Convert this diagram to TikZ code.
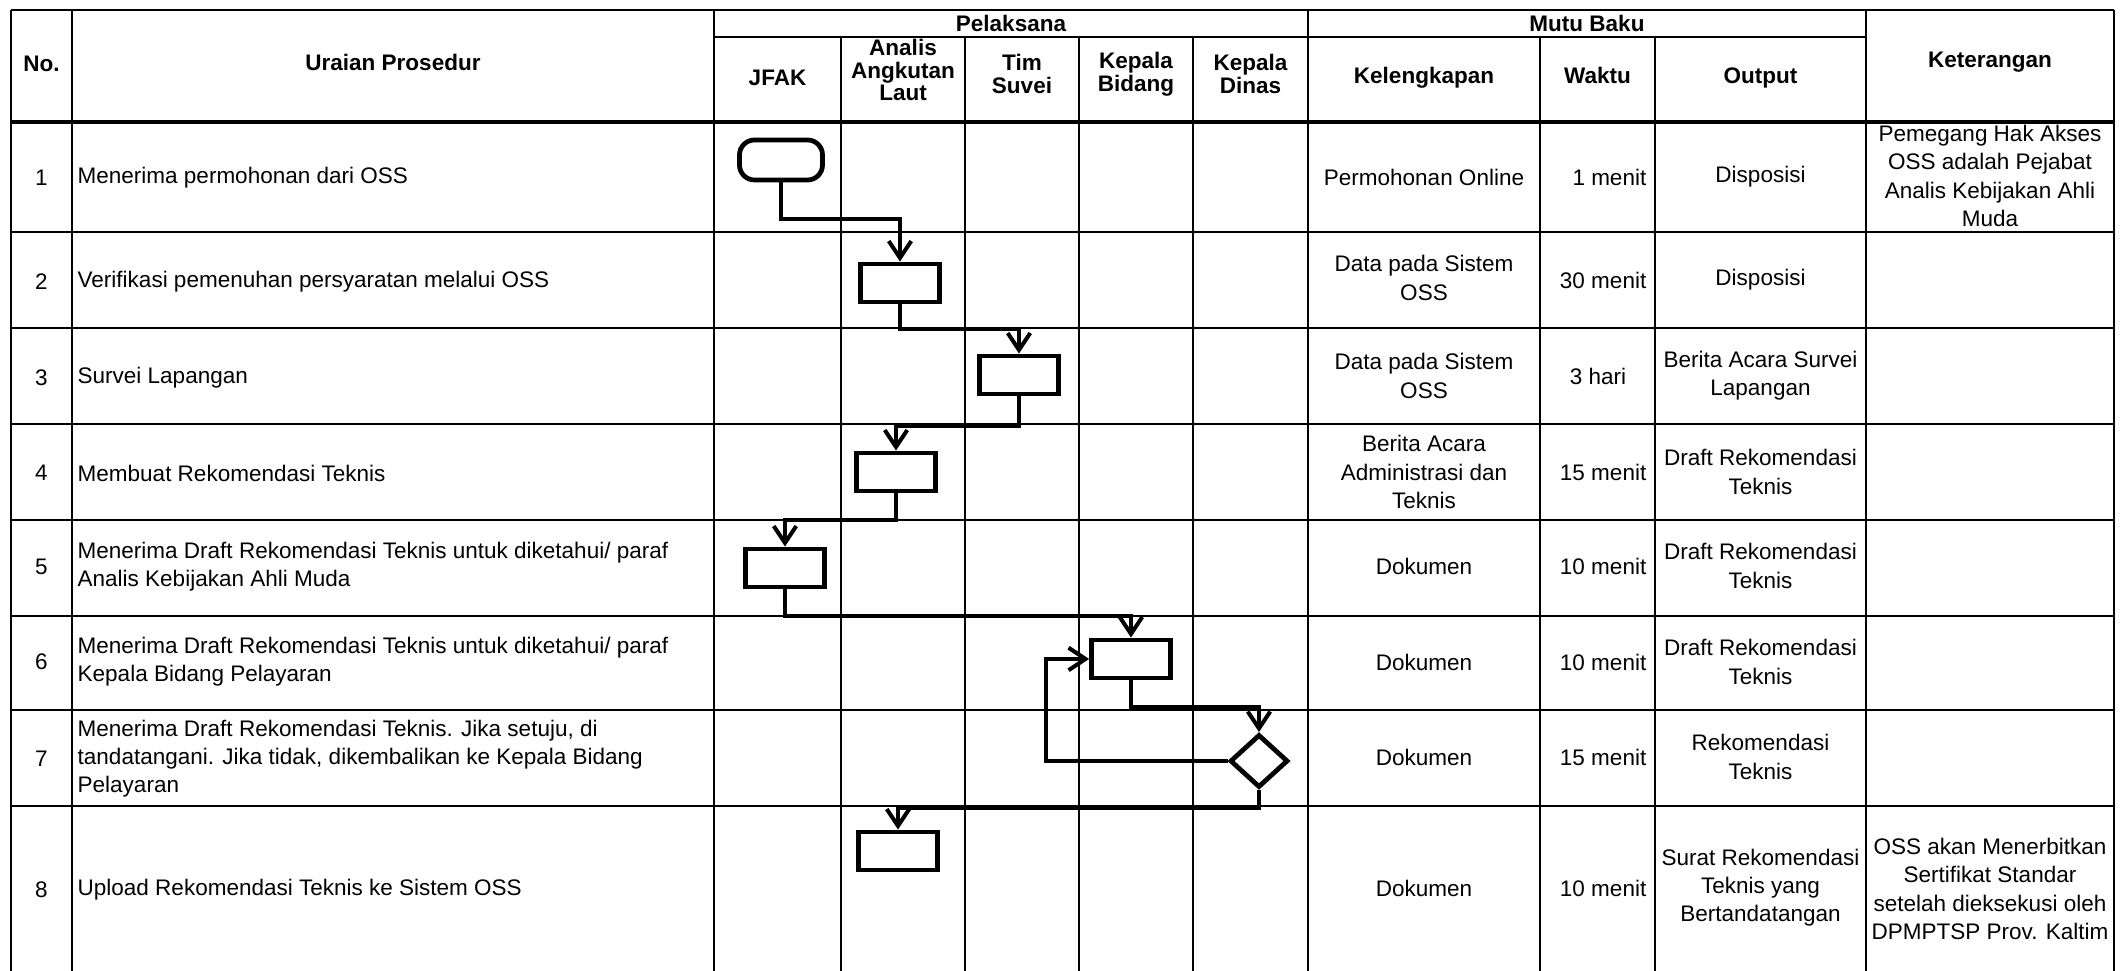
\documentclass[tikz,border=0pt]{standalone}
\usepackage{fontspec}
\setmainfont{Liberation Sans}
\usetikzlibrary{shapes.geometric,arrows.meta}

\begin{document}
\begin{tikzpicture} [x=0.01cm,y=-0.01cm,>={Straight Barb[length=4.8pt,width=6.4pt]},
			every node/.style={inner sep=0pt,align=center,font=\fontsize{6.4}{8.0}\selectfont},
			head/.style={font=\fontsize{6.4}{6.5}\selectfont\bfseries},
			uraian/.style={anchor=west,align=left},
			waktu cell/.style={anchor=east},
			grid line/.style={line width=0.6pt},
			head line/.style={line width=1.2pt},
			process/.style={draw,line width=1.35pt,minimum width=0.79cm,minimum height=0.38cm},
			terminal/.style={process,rounded corners=0.15cm,minimum width=0.83cm,minimum height=0.40cm},
			decision/.style={draw,diamond,line width=1.35pt,minimum width=0.58cm,minimum height=0.53cm},
			flow/.style={->,line width=1.15pt}
			]
		\useasboundingbox (0,0) rectangle (2123,971);

		% table frame
		\draw [grid line] (11,10) -- (11,971) (72,10) -- (72,971) (714,10) -- (714,971)
			(1308,10) -- (1308,971) (1866,10) -- (1866,971) (2114,10) -- (2114,971);
		\draw [grid line] (841,37) -- (841,971) (965,37) -- (965,971) (1079,37) -- (1079,971)
			(1193,37) -- (1193,971) (1540,37) -- (1540,971) (1655,37) -- (1655,971);
		\draw [grid line] (11,10) -- (2114,10) (714,37) -- (1866,37);
		\draw [head line] (11,122) -- (2114,122);
		\draw [grid line] (11,232) -- (2114,232) (11,328) -- (2114,328) (11,424) -- (2114,424)
			(11,520) -- (2114,520) (11,616) -- (2114,616) (11,710) -- (2114,710) (11,806) -- (2114,806);

		% header
		\node [head] (no) at (41.5,64) {No.};
		\node [head] (uraian) at (393,62) {Uraian Prosedur};
		\node [head] (pelaksana) at (1011,23) {Pelaksana};
		\node [head] (jfak) at (777.5,78) {JFAK};
		\node [head] (analis) at (903,70) {Analis\\Angkutan\\Laut};
		\node [head] (tim) at (1022,74) {Tim\\Suvei};
		\node [head] (kabid) at (1136,74) {Kepala\\Bidang};
		\node [head] (kadis) at (1250.5,74) {Kepala\\Dinas};
		\node [head] (mutu) at (1587,23) {Mutu Baku};
		\node [head] (kelengkapan) at (1424,78) {Kelengkapan};
		\node [head] (waktu) at (1597.5,75) {Waktu};
		\node [head] (output) at (1760.5,78) {Output};
		\node [head] (ket) at (1990,62) {Keterangan};

		% no. and uraian prosedur
		\node (n1) at (41.5,178) {1};
		\node (n2) at (41.5,282) {2};
		\node (n3) at (41.5,378) {3};
		\node (n4) at (41.5,473) {4};
		\node (n5) at (41.5,567) {5};
		\node (n6) at (41.5,662) {6};
		\node (n7) at (41.5,759) {7};
		\node (n8) at (41.5,890) {8};
		\node [uraian] (u1) at (77,178) {Menerima permohonan dari OSS};
		\node [uraian] (u2) at (77,282) {Verifikasi pemenuhan persyaratan melalui OSS};
		\node [uraian] (u3) at (77,378) {Survei Lapangan};
		\node [uraian] (u4) at (77,473) {Membuat Rekomendasi Teknis};
		\node [uraian] (u5) at (77,567) {Menerima Draft Rekomendasi Teknis untuk diketahui/ paraf\\Analis Kebijakan Ahli Muda};
		\node [uraian] (u6) at (77,662) {Menerima Draft Rekomendasi Teknis untuk diketahui/ paraf\\Kepala Bidang Pelayaran};
		\node [uraian] (u7) at (77,759) {Menerima Draft Rekomendasi Teknis. Jika setuju, di\\tandatangani. Jika tidak, dikembalikan ke Kepala Bidang\\Pelayaran};
		\node [uraian] (u8) at (77,890) {Upload Rekomendasi Teknis ke Sistem OSS};

		% mutu baku
		\node (k1) at (1424,177) {Permohonan Online};
		\node (k2) at (1424,278) {Data pada Sistem\\OSS};
		\node (k3) at (1424,376) {Data pada Sistem\\OSS};
		\node (k4) at (1424,472) {Berita Acara\\Administrasi dan\\Teknis};
		\node (k5) at (1424,566) {Dokumen};
		\node (k6) at (1424,662) {Dokumen};
		\node (k7) at (1424,757) {Dokumen};
		\node (k8) at (1424,888) {Dokumen};
		\node [waktu cell] (w1) at (1647,177) {1 menit};
		\node [waktu cell] (w2) at (1647,280) {30 menit};
		\node (w3) at (1598,376) {3 hari};
		\node [waktu cell] (w4) at (1647,472) {15 menit};
		\node [waktu cell] (w5) at (1647,566) {10 menit};
		\node [waktu cell] (w6) at (1647,662) {10 menit};
		\node [waktu cell] (w7) at (1647,757) {15 menit};
		\node [waktu cell] (w8) at (1647,888) {10 menit};
		\node (o1) at (1760.5,177) {Disposisi};
		\node (o2) at (1760.5,280) {Disposisi};
		\node (o3) at (1760.5,376) {Berita Acara Survei\\Lapangan};
		\node (o4) at (1760.5,472) {Draft Rekomendasi\\Teknis};
		\node (o5) at (1760.5,566) {Draft Rekomendasi\\Teknis};
		\node (o6) at (1760.5,662) {Draft Rekomendasi\\Teknis};
		\node (o7) at (1760.5,757) {Rekomendasi\\Teknis};
		\node (o8) at (1760.5,888) {Surat Rekomendasi\\Teknis yang\\Bertandatangan};
		\node (ket1) at (1990,176) {Pemegang Hak Akses\\OSS adalah Pejabat\\Analis Kebijakan Ahli\\Muda};
		\node (ket8) at (1990,889) {OSS akan Menerbitkan\\Sertifikat Standar\\setelah dieksekusi oleh\\DPMPTSP Prov. Kaltim};

		% flow
		\node [terminal] (start) at (781,160) {};
		\node [process] (s2) at (900,283) {};
		\node [process] (s3) at (1019,375) {};
		\node [process] (s4) at (896,472) {};
		\node [process] (s5) at (785,568) {};
		\node [process] (s6) at (1131,659) {};
		\node [decision] (d7) at (1259,761) {};
		\node [process] (s8) at (898,851) {};

		\draw [flow] (start.south) -- ++(0,37) -| (s2.north);
		\draw [flow] (s2.south) -- ++(0,25) -| (s3.north);
		\draw [flow] (s3.south) -- ++(0,30) -| (s4.north);
		\draw [flow] (s4.south) -- ++(0,27) -| (s5.north);
		\draw [flow] (s5.south) -- ++(0,27) -| (s6.north);
		\draw [flow] (s6.south) -- ++(0,27) -| (d7.north);
		\draw [flow] (d7.west) -- ++(-182,0) |- (s6.west); %kembali
		\draw [flow] (d7.south) -- ++(0,18) -| (s8.north);
		\end{tikzpicture}
\end{document}
